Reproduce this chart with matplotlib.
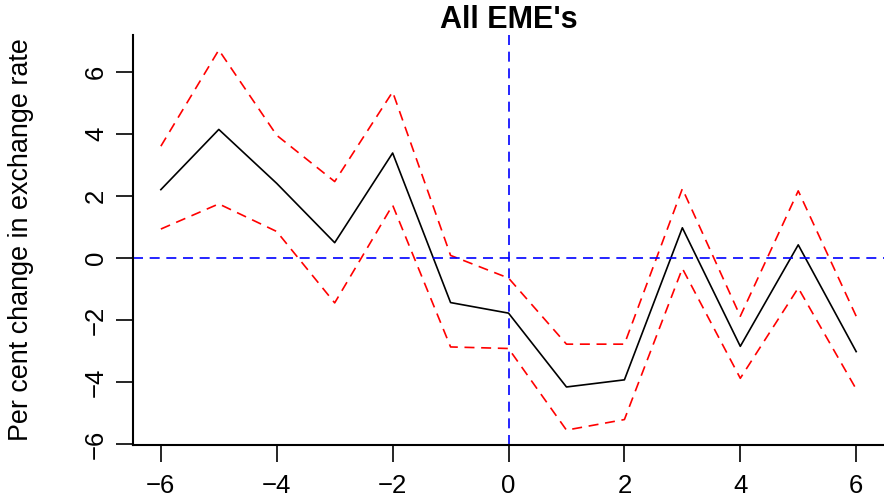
import numpy as np
import matplotlib
matplotlib.use("Agg")
import matplotlib.pyplot as plt

plt.rcParams['font.family'] = ['Liberation Sans', 'DejaVu Sans']

# months relative to event
horizon = [-6, -5, -4, -3, -2, -1, 0, 1, 2, 3, 4, 5, 6]
# point estimate and confidence band (per cent)
estimate = [2.2, 4.14, 2.4, 0.49, 3.38, -1.44, -1.78, -4.16, -3.93, 0.97, -2.85, 0.42, -3.02]
upper = [3.6, 6.7, 3.95, 2.46, 5.35, 0.08, -0.65, -2.78, -2.78, 2.23, -1.88, 2.16, -1.88]
lower = [0.93, 1.74, 0.85, -1.45, 1.70, -2.87, -2.92, -5.55, -5.21, -0.34, -3.88, -0.97, -4.23]
xticks = [-6, -4, -2, 0, 2, 4, 6]
yticks = [-6, -4, -2, 0, 2, 4, 6]

fig = plt.figure(figsize=(8.84, 4.97), dpi=100)
ax = fig.add_axes([0.1505, 0.104, 0.8495, 0.826])

dash = (0, (6, 4))
ax.plot(horizon, estimate, color='black', lw=1.2)
ax.plot(horizon, upper, color='red', lw=1.2, linestyle=dash)
ax.plot(horizon, lower, color='red', lw=1.2, linestyle=dash)
ax.axhline(0, color='blue', lw=1.2, linestyle=dash)
ax.axvline(0, color='blue', lw=1.2, linestyle=dash)

# R style: data range padded by 4 %
lo, hi = min(lower), max(upper)
pad = 0.04 * (hi - lo)
ax.set_ylim(lo - pad, hi + pad)
ax.set_xlim(-6 - 0.48, 6 + 0.48)

ax.set_xticks(xticks)
ax.set_yticks(yticks)
ax.set_xticklabels([str(t).replace('-', '\u2212') for t in xticks])
ax.set_yticklabels([str(t).replace('-', '\u2212') for t in yticks], rotation=90, va='center')
ax.tick_params(axis='both', labelsize=18.5, length=12, width=1.2, direction='out')
ax.tick_params(axis='x', pad=9)
ax.tick_params(axis='y', pad=6)

for s in ['top', 'right']:
    ax.spines[s].set_visible(False)
for s in ['left', 'bottom']:
    ax.spines[s].set_linewidth(1.5)

ax.set_ylabel('Per cent change in exchange rate', fontsize=19.4)
ax.yaxis.set_label_coords((21 - 133) / 751, 0.5)
ax.yaxis.label.set_va('center')
ax.set_title("All EME's", fontsize=22, fontweight='bold', pad=-1)

fig.savefig('out.png', dpi=100)
